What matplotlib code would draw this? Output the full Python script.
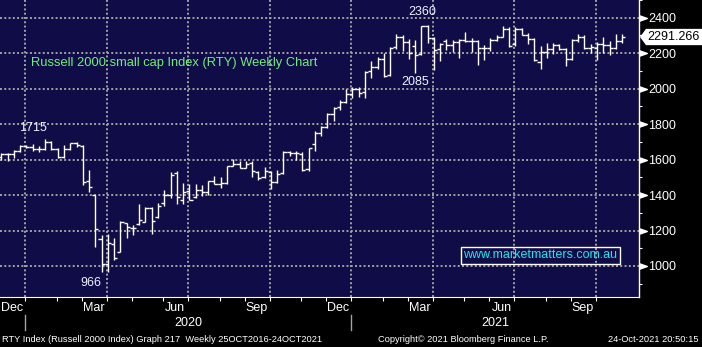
import numpy as np
import pandas as pd
import matplotlib
matplotlib.use('Agg')
import matplotlib.pyplot as plt
import matplotlib.transforms as mtransforms
from matplotlib.patches import Polygon
from matplotlib.lines import Line2D

# ---------------- data (weekly OHLC, RTY) ----------------
dates = pd.date_range('2019-11-29', periods=100, freq='W-FRI')

opens = [1617,1630,1632,1647,1677,1672,1662,1658,1697,1660,
         1615,1657,1692,1676,1480,1400,1150,1010,1125,1080,
         1240,1215,1235,1250,1328,1275,1355,1400,1525,1370,
         1420,1390,1430,1415,1478,1464,1470,1566,1576,1553,
         1580,1530,1500,1530,1473,1525,1640,1636,1630,1545,
         1690,1750,1785,1856,1895,1925,1969,1998,1980,2100,
         2124,2165,2075,2235,2292,2264,2240,2195,2352,2288,
         2222,2270,2244,2264,2272,2266,2270,2228,2230,2272,
         2291,2338,2250,2335,2305,2282,2150,2207,2225,2248,
         2225,2168,2276,2291,2230,2228,2250,2244,2231,2266]
highs = [1636,1636,1652,1682,1685,1690,1675,1715,1706,1665,
         1680,1696,1700,1682,1540,1402,1173,1178,1160,1251,
         1242,1229,1350,1332,1335,1355,1430,1530,1535,1467,
         1463,1460,1455,1482,1505,1500,1566,1604,1590,1590,
         1594,1538,1560,1538,1540,1647,1650,1650,1640,1665,
         1763,1790,1860,1895,1935,2000,2010,2010,2100,2155,
         2180,2200,2235,2310,2305,2280,2275,2356,2360,2291,
         2258,2282,2276,2282,2320,2287,2272,2244,2287,2304,
         2351,2347,2347,2343,2312,2284,2238,2258,2258,2253,
         2230,2282,2310,2300,2250,2263,2291,2266,2306,2306]
lows = [1600,1593,1610,1640,1665,1650,1645,1655,1655,1610,
        1608,1652,1672,1456,1418,1109,968,966,1036,1079,
        1160,1173,1230,1248,1180,1270,1340,1384,1347,1347,
        1370,1385,1395,1398,1460,1440,1464,1562,1550,1550,
        1501,1486,1495,1436,1470,1520,1620,1600,1538,1538,
        1650,1735,1780,1820,1880,1920,1945,1955,1945,2060,
        2110,2065,2070,2225,2210,2165,2088,2190,2256,2105,
        2158,2216,2207,2175,2263,2207,2131,2160,2213,2266,
        2289,2235,2240,2300,2250,2158,2112,2175,2197,2219,
        2127,2163,2263,2221,2203,2163,2201,2191,2225,2257]
closes = [1630,1632,1647,1677,1672,1662,1658,1697,1662,1612,
          1657,1692,1681,1474,1446,1207,1012,1130,1047,1248,
          1222,1216,1257,1328,1253,1340,1398,1514,1387,1416,
          1373,1430,1415,1478,1464,1470,1566,1576,1553,1576,
          1533,1497,1538,1473,1520,1640,1636,1636,1540,1665,
          1748,1781,1856,1890,1925,1969,1998,1975,2095,2124,
          2168,2070,2230,2292,2264,2200,2190,2352,2288,2220,
          2254,2244,2264,2272,2266,2270,2228,2228,2272,2291,
          2338,2238,2335,2305,2282,2162,2207,2225,2248,2225,
          2168,2276,2291,2230,2235,2250,2244,2231,2266,2291.266]

yticks = [1000, 1200, 1400, 1600, 1800, 2000, 2200, 2400]
yminor = [900, 1100, 1300, 1500, 1700, 1900, 2100, 2300, 2500]
quarter_months = {3: 'Mar', 6: 'Jun', 9: 'Sep', 12: 'Dec'}
last_price = closes[-1]

notes = [("1715", 5.14, 1777), ("966", 14.3, 904), ("2360", 67.1, 2430), ("2085", 66.0, 2036)]

# ---------------- style ----------------
FONT = ['Liberation Sans', 'DejaVu Sans']
plt.rcParams['font.family'] = FONT
BG = '#0f0c47'
GRID = '#a3a3a3'

W, H = 702, 347
fig = plt.figure(figsize=(W/100, H/100), dpi=100, facecolor='black')
ax_l, ax_r, ax_b = 0, 639, 297
ax = fig.add_axes([ax_l/W, (H-ax_b)/H, (ax_r-ax_l)/W, ax_b/H])
ax.set_facecolor(BG)

x = np.arange(len(dates))
ax.vlines(x, lows, highs, color='white', lw=1.0)
ax.hlines(opens, x-0.5, x, color='white', lw=1.0)
ax.hlines(closes, x, x+0.5, color='white', lw=1.0)

ax.set_xlim(-0.2, 101.7)
ax.set_ylim(825, 2497)

# month-end tick positions
per = dates.to_period('M')
month_ticks, month_of_tick = [], []
for i in range(len(dates)-1):
    if per[i] != per[i+1]:
        pos = i - 0.17
        if pos > 0.5:
            month_ticks.append(pos)
            month_of_tick.append(dates[i])
quarter_ticks = [p for p, d in zip(month_ticks, month_of_tick) if d.month in quarter_months]

ax.set_xticks(quarter_ticks)
ax.set_xticks(month_ticks, minor=True)
ax.tick_params(axis='x', which='both', length=3, width=0.8, color='white', direction='out',
               labelbottom=False)

ax.yaxis.tick_right()
ax.set_yticks(yticks)
ax.set_yticks(yminor, minor=True)
ax.set_yticklabels([str(v) for v in yticks])
ax.tick_params(axis='y', which='major', length=0, pad=6.5, labelsize=9, labelcolor='white')
ax.tick_params(axis='y', which='minor', length=2.5, width=0.8, color='white', direction='out')

ax.grid(True, which='major', color=GRID, lw=1.4, linestyle=(0, (1, 1.2)))

for s in ['top', 'left']:
    ax.spines[s].set_visible(False)
ax.spines['right'].set_color('white')
ax.spines['right'].set_linewidth(1.0)
ax.spines['bottom'].set_color('white')
ax.spines['bottom'].set_linewidth(0.8)

# triangle markers at major y ticks
btr = mtransforms.blended_transform_factory(ax.transAxes, ax.transData)
ax.plot([1 + 3.8/639]*len(yticks), yticks, ls='none',
        marker=[(-1, -0.7), (1, 0), (-1, 0.7)], ms=5.5, color='white',
        transform=btr, clip_on=False)

# month labels and year labels
xtr = ax.get_xaxis_transform()
for p, d in zip(quarter_ticks, [d for d in month_of_tick if d.month in quarter_months]):
    ax.text(p - 2.07, -0.036, quarter_months[d.month], transform=xtr, ha='center', va='center',
            color='white', fontsize=9)
year_seps = [p for p, d in zip(month_ticks, month_of_tick) if d.month == 12]
for p in year_seps:
    ax.add_line(Line2D([p, p], [-0.061, -0.111], transform=xtr, color=GRID, lw=1.0, clip_on=False))
bounds = year_seps + [101.7]
for yr, a, b in zip([2020, 2021], bounds[:-1], bounds[1:]):
    ax.text((a + b)/2, -0.0865, str(yr), transform=xtr, ha='center', va='center',
            color='white', fontsize=9)

# price annotations
for t, xi, yv in notes:
    ax.text(xi, yv, t, ha='center', va='center', color='#eef2ff', fontsize=9)

ax.text(31/639, 1 - 63/297, 'Russell 2000 small cap Index (RTY) Weekly Chart',
        transform=ax.transAxes, ha='left', va='center', color='#6fef7a', fontsize=9.3)

ax.text(540.5/639, 1 - 255.5/297, 'www.marketmatters.com.au', transform=ax.transAxes,
        ha='center', va='center', color='#22e6f0', fontsize=9,
        bbox=dict(boxstyle='square,pad=0.18', fc='none', ec='white', lw=1.0))

# last price tag
dy = 46
poly = Polygon([(1 + 1/639, last_price), (1 + 7/639, last_price + dy), (1 + 63/639, last_price + dy),
                (1 + 63/639, last_price - dy), (1 + 7/639, last_price - dy)],
               closed=True, fc='white', ec='none', transform=btr, clip_on=False)
ax.add_patch(poly)
ax.text(1 + 8/639, last_price, f'{last_price:.3f}', transform=btr, ha='left', va='center',
        color='black', fontsize=9, clip_on=False)

# footer
fy = 1 - 339.5/H
fig.text(2/W, fy, 'RTY Index (Russell 2000 Index) Graph 217  Weekly 25OCT2016-24OCT2021',
         ha='left', va='center', color='white', fontsize=6.7)
fig.text(378/W, fy, 'Copyright\u00a9 2021 Bloomberg Finance L.P.', ha='left', va='center',
         color='white', fontsize=6.7)
fig.text(699/W, fy, '24-Oct-2021 20:50:15', ha='right', va='center', color='white', fontsize=6.7)

fig.savefig('out.png', dpi=100, facecolor='black')
